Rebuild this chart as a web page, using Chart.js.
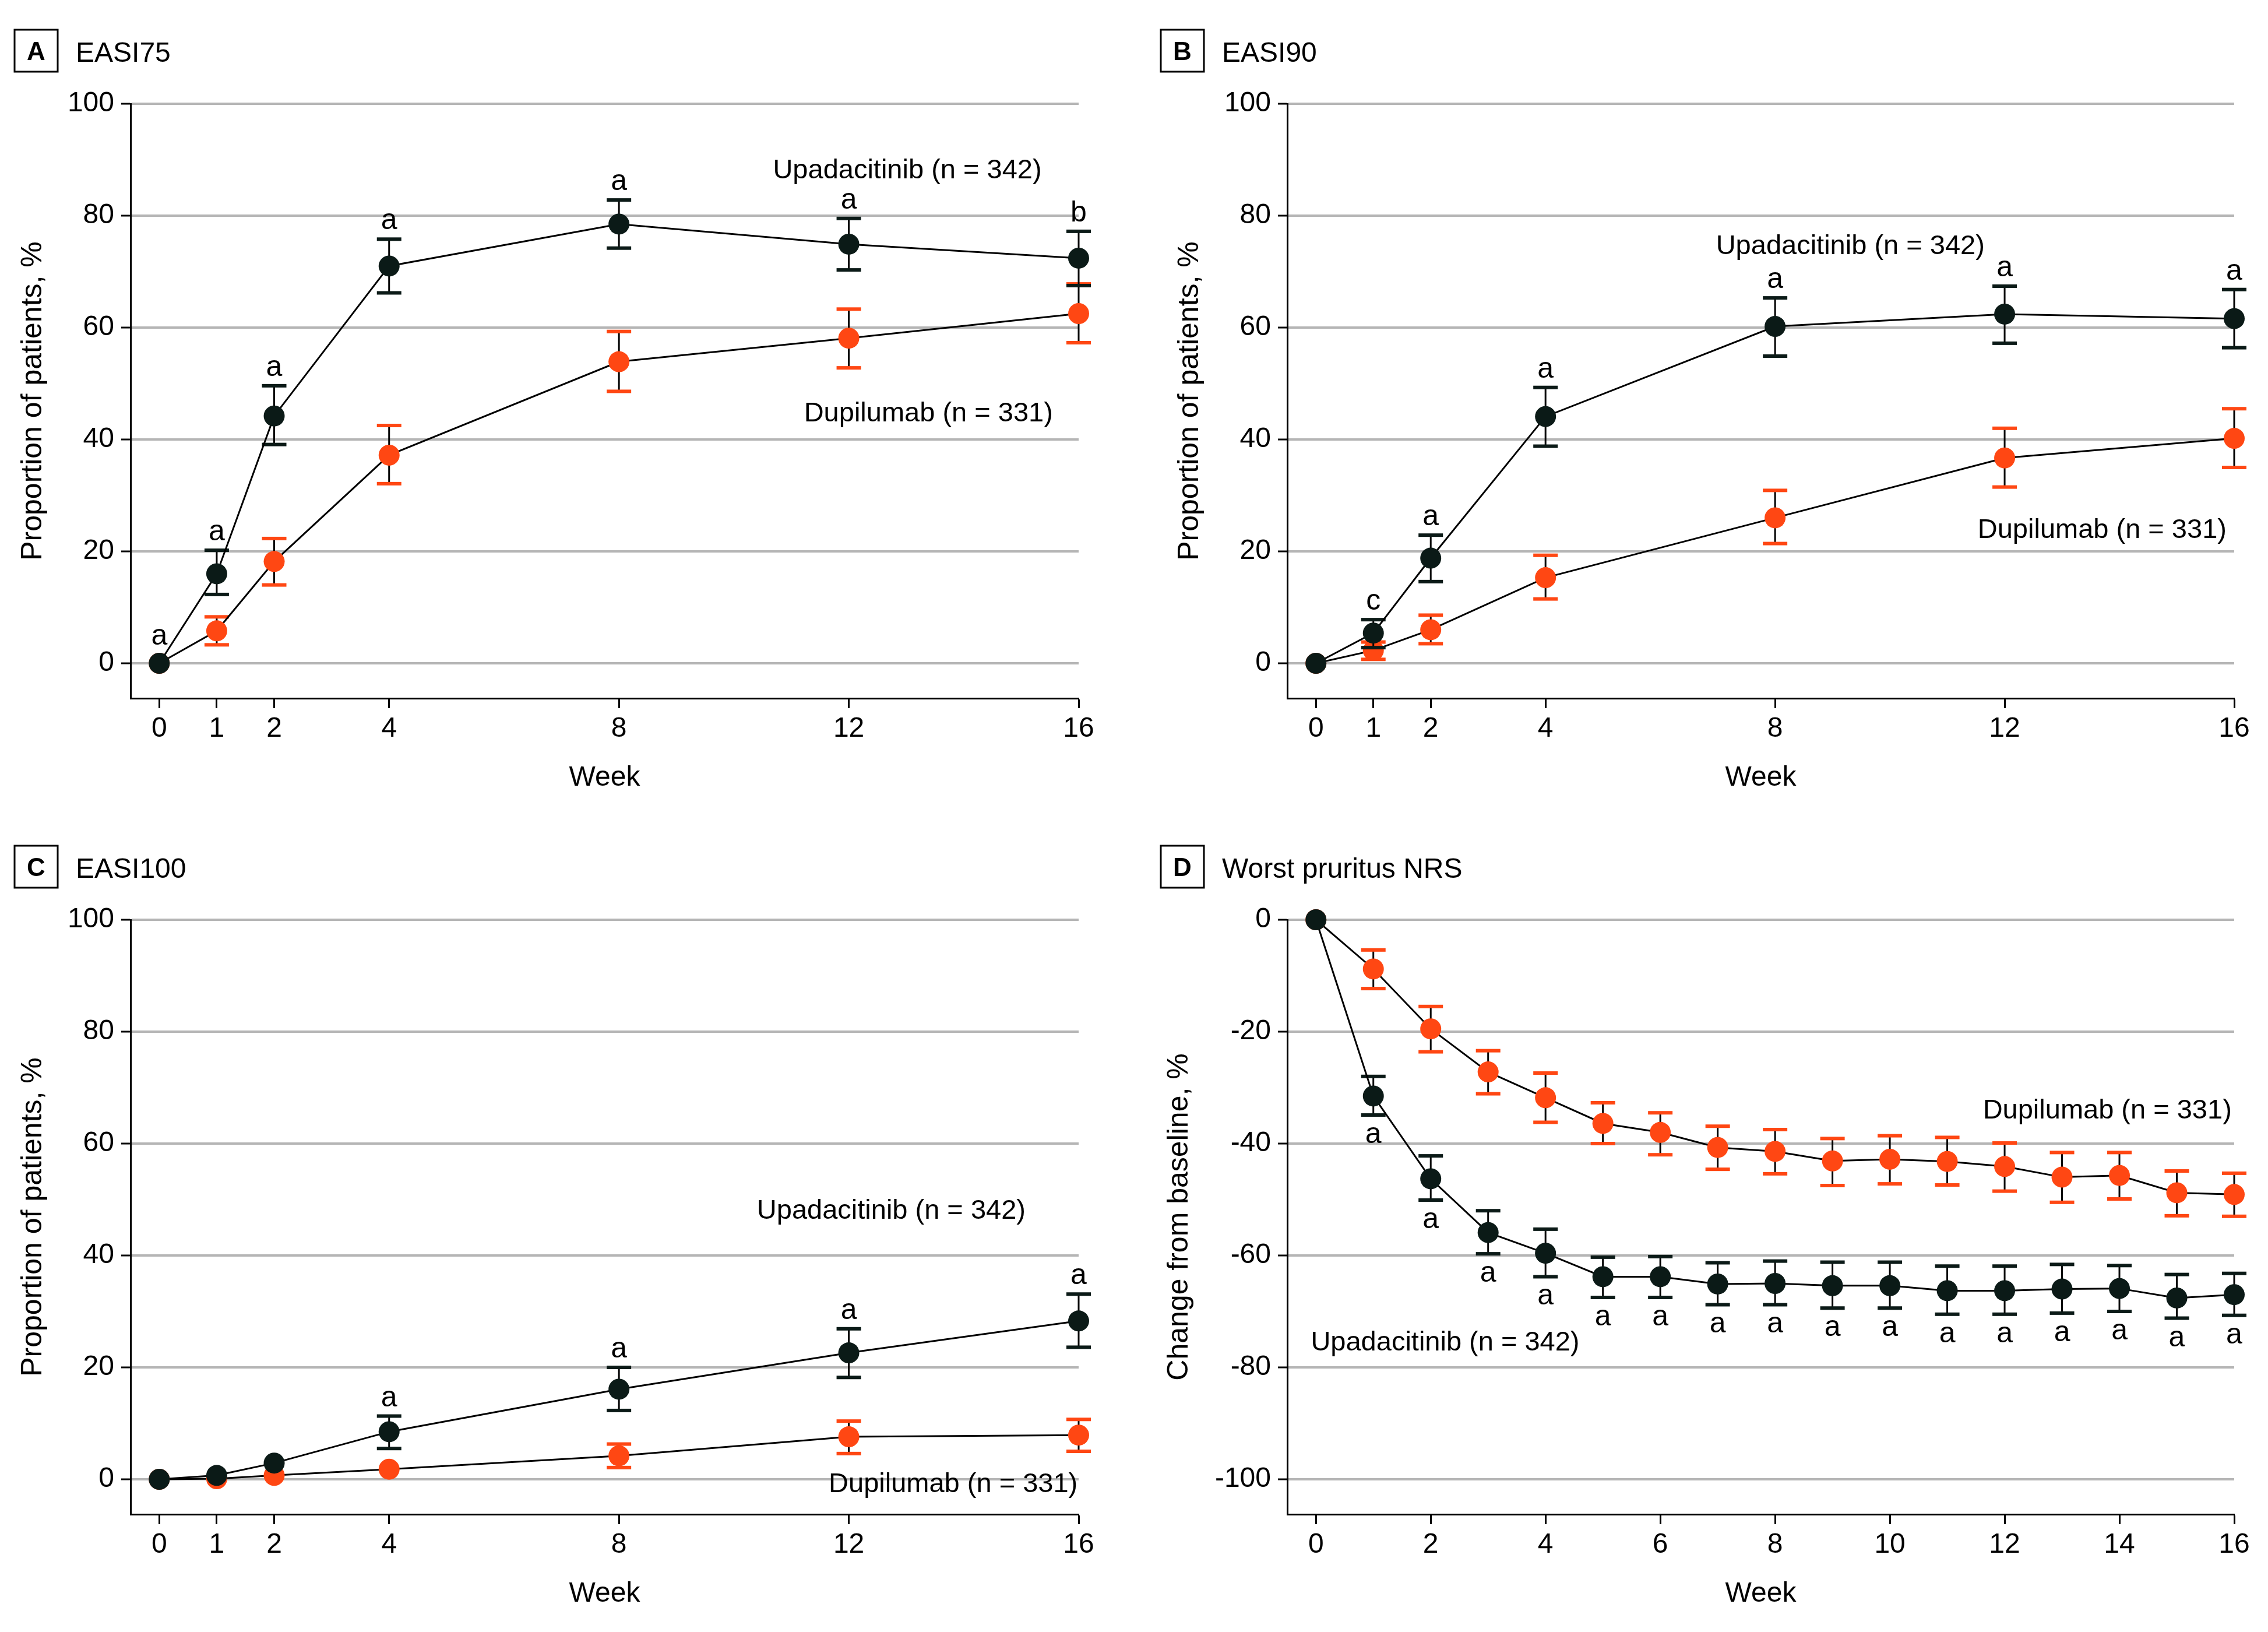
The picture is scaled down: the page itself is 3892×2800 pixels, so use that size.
<!DOCTYPE html>
<html>
<head>
<meta charset="utf-8">
<script src="https://cdn.jsdelivr.net/npm/chart.js@4.4.1/dist/chart.umd.min.js"></script>
<style>
  html, body { margin: 0; padding: 0; background: #fff; }
  body { width: 3892px; height: 2800px; position: relative; overflow: hidden; }
  canvas { position: absolute; }
</style>
</head>
<body>
<canvas id="panelA" width="1946" height="1400" style="left:0;top:0"></canvas>
<canvas id="panelB" width="1946" height="1400" style="left:1946px;top:0"></canvas>
<canvas id="panelC" width="1946" height="1400" style="left:0;top:1400px"></canvas>
<canvas id="panelD" width="1946" height="1400" style="left:1946px;top:1400px"></canvas>
<script>
// Weeks
const weeksEasi = [0, 1, 2, 4, 8, 12, 16];
const weeksNrs = [0, 1, 2, 3, 4, 5, 6, 7, 8, 9, 10, 11, 12, 13, 14, 15, 16];

// Tick labels
const xTicksEasi = [0, 1, 2, 4, 8, 12, 16];
const xTicksNrs = [0, 2, 4, 6, 8, 10, 12, 14, 16];
const yTicksEasi = [0, 20, 40, 60, 80, 100];
const yTicksNrs = [-100, -80, -60, -40, -20, 0];

// A - EASI75
const easi75Upa = [0, 16.0, 44.2, 71.0, 78.5, 74.9, 72.4];
const easi75UpaLo = [null, 12.3, 39.1, 66.2, 74.2, 70.3, 67.5];
const easi75UpaHi = [null, 20.2, 49.6, 75.8, 82.8, 79.5, 77.2];
const easi75Dup = [0, 5.8, 18.2, 37.2, 53.9, 58.1, 62.5];
const easi75DupLo = [null, 3.3, 14.0, 32.1, 48.6, 52.8, 57.3];
const easi75DupHi = [null, 8.3, 22.3, 42.5, 59.3, 63.3, 67.8];
const easi75Sig = ['a', 'a', 'a', 'a', 'a', 'a', 'b'];

// B - EASI90
const easi90Upa = [0, 5.4, 18.8, 44.1, 60.2, 62.4, 61.6];
const easi90UpaLo = [null, 2.8, 14.6, 38.8, 54.9, 57.2, 56.4];
const easi90UpaHi = [null, 7.8, 22.9, 49.3, 65.3, 67.4, 66.8];
const easi90Dup = [0, 2.3, 6.0, 15.3, 26.0, 36.7, 40.2];
const easi90DupLo = [null, 0.7, 3.5, 11.5, 21.4, 31.5, 35.0];
const easi90DupHi = [null, 3.8, 8.6, 19.3, 30.9, 42.0, 45.5];
const easi90Sig = [null, 'c', 'a', 'a', 'a', 'a', 'a'];

// C - EASI100
const easi100Upa = [0, 0.7, 2.9, 8.5, 16.1, 22.6, 28.3];
const easi100UpaLo = [null, null, null, 5.5, 12.3, 18.2, 23.6];
const easi100UpaHi = [null, null, null, 11.3, 20.0, 26.9, 33.1];
const easi100Dup = [0, 0.1, 0.7, 1.8, 4.2, 7.6, 7.9];
const easi100DupLo = [null, null, null, null, 2.1, 4.6, 5.0];
const easi100DupHi = [null, null, null, null, 6.3, 10.4, 10.7];
const easi100Sig = [null, null, null, 'a', 'a', 'a', 'a'];

// D - Worst pruritus NRS
const nrsUpa = [0, -31.5, -46.3, -55.9, -59.6, -63.8, -63.8, -65.1, -65.0, -65.4, -65.4, -66.3, -66.3, -66.0, -65.9, -67.6, -67.0];
const nrsUpaLo = [null, -34.9, -50.1, -59.7, -63.8, -67.5, -67.5, -68.8, -68.8, -69.4, -69.4, -70.5, -70.5, -70.3, -70.0, -71.2, -70.7];
const nrsUpaHi = [null, -28.0, -42.2, -52.0, -55.3, -60.3, -60.2, -61.3, -61.0, -61.2, -61.2, -61.9, -61.9, -61.6, -61.8, -63.4, -63.2];
const nrsDup = [0, -8.8, -19.5, -27.2, -31.8, -36.4, -38.0, -40.7, -41.4, -43.1, -42.8, -43.2, -44.1, -46.0, -45.7, -48.8, -49.1];
const nrsDupLo = [null, -12.3, -23.6, -31.1, -36.2, -40.0, -42.0, -44.6, -45.4, -47.5, -47.2, -47.4, -48.5, -50.5, -49.9, -52.9, -53.0];
const nrsDupHi = [null, -5.4, -15.5, -23.4, -27.4, -32.7, -34.5, -36.9, -37.5, -39.1, -38.6, -38.9, -39.9, -41.6, -41.6, -44.9, -45.3];
const nrsSig = [null, 'a', 'a', 'a', 'a', 'a', 'a', 'a', 'a', 'a', 'a', 'a', 'a', 'a', 'a', 'a', 'a'];

const upaName = 'Upadacitinib (n = 342)';
const dupName = 'Dupilumab (n = 331)';

const FONT = '"Liberation Sans", Arial, sans-serif';
const UPA_COLOR = '#0b1a17';
const DUP_COLOR = '#ff4713';
const GRID_COLOR = '#b5b5b5';

// error bars, drawn under each dataset
const errorBars = {
  id: 'errorBars',
  beforeDatasetDraw(chart, args) {
    const ds = chart.data.datasets[args.index];
    const y = chart.scales.y;
    const ctx = chart.ctx;
    ctx.save();
    args.meta.data.forEach((pt, i) => {
      const lo = ds.errLo[i], hi = ds.errHi[i];
      if (lo == null || hi == null) return;
      const yl = y.getPixelForValue(lo), yh = y.getPixelForValue(hi);
      ctx.strokeStyle = '#000';
      ctx.lineWidth = 3;
      ctx.beginPath();
      ctx.moveTo(pt.x, yl);
      ctx.lineTo(pt.x, yh);
      ctx.stroke();
      ctx.fillStyle = ds.capColor;
      ctx.fillRect(pt.x - 21, yh - 3, 42, 6);
      ctx.fillRect(pt.x - 21, yl - 3, 42, 6);
    });
    ctx.restore();
  }
};

// panel letter, titles, annotations
const panelText = {
  id: 'panelText',
  afterDraw(chart) {
    const p = chart.options.plugins.panelText;
    const ctx = chart.ctx;
    const xs = chart.scales.x, ys = chart.scales.y;
    const area = chart.chartArea;
    ctx.save();
    ctx.fillStyle = '#000';
    ctx.strokeStyle = '#000';

    // letter box
    ctx.lineWidth = 3;
    ctx.strokeRect(p.boxX, 51, 74, 72);
    ctx.font = 'bold 44px ' + FONT;
    ctx.textAlign = 'center';
    ctx.textBaseline = 'alphabetic';
    ctx.fillText(p.letter, p.boxX + 37, 103);

    ctx.font = '48px ' + FONT;
    ctx.textAlign = 'left';
    ctx.fillText(p.title, p.boxX + 105, 106);

    // axis titles
    ctx.textAlign = 'center';
    ctx.fillText('Week', (area.left + area.right) / 2, 1348);
    ctx.save();
    ctx.translate(p.yTitleX, (area.top + area.bottom) / 2);
    ctx.rotate(-Math.PI / 2);
    ctx.font = '50px ' + FONT;
    ctx.fillText(p.yTitle, 0, 0);
    ctx.restore();

    // significance letters on the upadacitinib series
    const upa = chart.data.datasets[0];
    ctx.font = '50px ' + FONT;
    ctx.textAlign = 'center';
    p.sig.forEach((s, i) => {
      if (!s) return;
      const pt = upa.data[i];
      const px = xs.getPixelForValue(pt.x);
      if (p.sigBelow) {
        const lo = upa.errLo[i] != null ? upa.errLo[i] : pt.y;
        ctx.fillText(s, px, ys.getPixelForValue(lo) + 48);
      } else {
        const hi = upa.errHi[i] != null ? upa.errHi[i] : pt.y;
        const by = Math.min(ys.getPixelForValue(hi) - 17, ys.getPixelForValue(pt.y) - 32);
        ctx.fillText(s, px, by);
      }
    });

    // series labels
    ctx.font = '47px ' + FONT;
    ctx.textAlign = 'left';
    p.labels.forEach(l => {
      ctx.fillText(l.text, xs.getPixelForValue(l.x), ys.getPixelForValue(l.y));
    });
    ctx.restore();
  }
};

function makePanel(id, cfg) {
  const canvas = document.getElementById(id);
  const toPts = arr => cfg.weeks.map((w, i) => ({ x: w, y: arr[i] }));
  const common = {
    borderColor: '#000',
    borderWidth: 3,
    pointRadius: 18,
    pointHoverRadius: 18,
    pointBorderWidth: 0,
    clip: false,
    tension: 0
  };
  return new Chart(canvas, {
    type: 'line',
    data: {
      datasets: [
        Object.assign({}, common, {
          label: 'Upadacitinib',
          data: toPts(cfg.upa),
          errLo: cfg.upaLo, errHi: cfg.upaHi,
          capColor: UPA_COLOR,
          pointBackgroundColor: UPA_COLOR
        }),
        Object.assign({}, common, {
          label: 'Dupilumab',
          data: toPts(cfg.dup),
          errLo: cfg.dupLo, errHi: cfg.dupHi,
          capColor: DUP_COLOR,
          pointBackgroundColor: DUP_COLOR
        })
      ]
    },
    options: {
      responsive: false,
      animation: false,
      events: [],
      layout: { padding: { left: 0, top: 178, right: canvas.width - cfg.plotRight, bottom: 0 } },
      plugins: {
        legend: { display: false },
        tooltip: { enabled: false },
        panelText: cfg.text
      },
      scales: {
        x: {
          type: 'linear',
          min: -0.5,
          max: 16,
          afterBuildTicks: s => { s.ticks = cfg.xTicks.map(v => ({ value: v })); },
          afterFit: s => { s.height = 202; },
          grid: { drawOnChartArea: false, drawTicks: true, tickLength: 17, tickWidth: 3, tickColor: '#000' },
          border: { display: true, color: '#000', width: 3 },
          ticks: { font: { family: FONT, size: 48 }, color: '#000', padding: 7, maxRotation: 0, autoSkip: false }
        },
        y: {
          type: 'linear',
          min: cfg.yMin,
          max: cfg.yMax,
          afterBuildTicks: s => { s.ticks = cfg.yTicks.map(v => ({ value: v })); },
          afterFit: s => { s.width = cfg.plotLeft; },
          grid: { color: GRID_COLOR, lineWidth: 4, drawTicks: true, tickLength: 16, tickWidth: 3, tickColor: '#000' },
          border: { display: true, color: '#000', width: 3 },
          ticks: { font: { family: FONT, size: 48 }, color: '#000', padding: 12, callback: v => String(v) }
        }
      }
    },
    plugins: [errorBars, panelText]
  });
}

makePanel('panelA', {
  weeks: weeksEasi, xTicks: xTicksEasi, yTicks: yTicksEasi, yMin: -6.25, yMax: 100,
  plotLeft: 224, plotRight: 1851,
  upa: easi75Upa, upaLo: easi75UpaLo, upaHi: easi75UpaHi,
  dup: easi75Dup, dupLo: easi75DupLo, dupHi: easi75DupHi,
  text: {
    letter: 'A', title: 'EASI75', boxX: 25, yTitleX: 71, yTitle: 'Proportion of patients, %',
    sig: easi75Sig, sigBelow: false,
    labels: [{ text: upaName, x: 10.68, y: 86.7 }, { text: dupName, x: 11.22, y: 43.2 }]
  }
});

makePanel('panelB', {
  weeks: weeksEasi, xTicks: xTicksEasi, yTicks: yTicksEasi, yMin: -6.25, yMax: 100,
  plotLeft: 263, plotRight: 1888,
  upa: easi90Upa, upaLo: easi90UpaLo, upaHi: easi90UpaHi,
  dup: easi90Dup, dupLo: easi90DupLo, dupHi: easi90DupHi,
  text: {
    letter: 'B', title: 'EASI90', boxX: 46, yTitleX: 110, yTitle: 'Proportion of patients, %',
    sig: easi90Sig, sigBelow: false,
    labels: [{ text: upaName, x: 6.97, y: 73.1 }, { text: dupName, x: 11.53, y: 22.4 }]
  }
});

makePanel('panelC', {
  weeks: weeksEasi, xTicks: xTicksEasi, yTicks: yTicksEasi, yMin: -6.25, yMax: 100,
  plotLeft: 224, plotRight: 1851,
  upa: easi100Upa, upaLo: easi100UpaLo, upaHi: easi100UpaHi,
  dup: easi100Dup, dupLo: easi100DupLo, dupHi: easi100DupHi,
  text: {
    letter: 'C', title: 'EASI100', boxX: 25, yTitleX: 71, yTitle: 'Proportion of patients, %',
    sig: easi100Sig, sigBelow: false,
    labels: [{ text: upaName, x: 10.40, y: 46.6 }, { text: dupName, x: 11.65, y: -2.3 }]
  }
});

makePanel('panelD', {
  weeks: weeksNrs, xTicks: xTicksNrs, yTicks: yTicksNrs, yMin: -106.25, yMax: 0,
  plotLeft: 263, plotRight: 1888,
  upa: nrsUpa, upaLo: nrsUpaLo, upaHi: nrsUpaHi,
  dup: nrsDup, dupLo: nrsDupLo, dupHi: nrsDupHi,
  text: {
    letter: 'D', title: 'Worst pruritus NRS', boxX: 46, yTitleX: 92, yTitle: 'Change from baseline, %',
    sig: nrsSig, sigBelow: true,
    labels: [{ text: dupName, x: 11.62, y: -35.5 }, { text: upaName, x: -0.09, y: -77.0 }]
  }
});
</script>
</body>
</html>
